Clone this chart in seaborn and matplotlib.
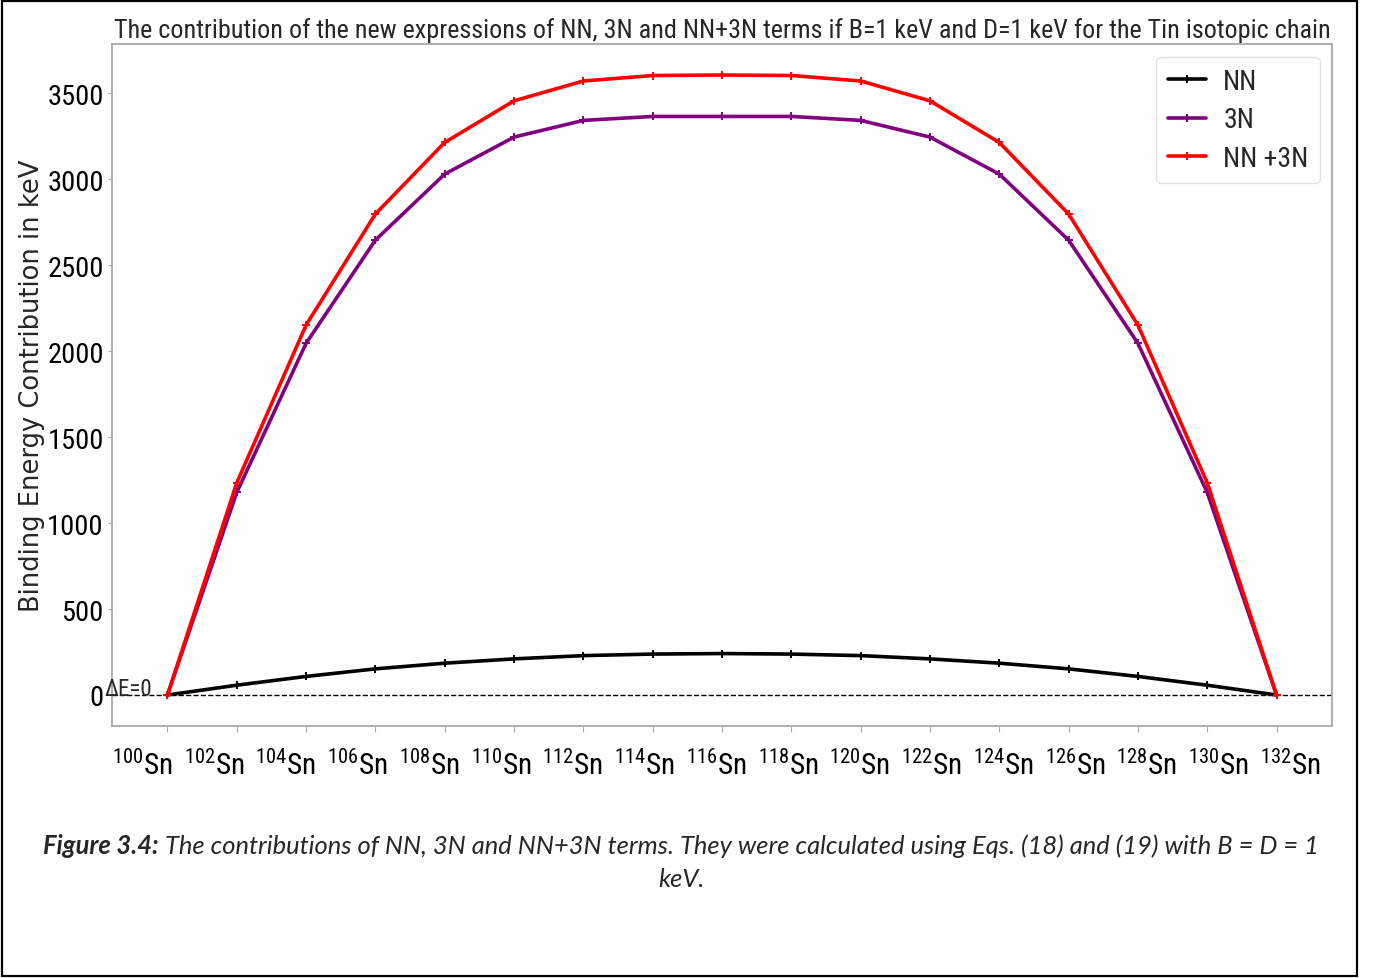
import numpy as np
import pandas as pd
import matplotlib
matplotlib.use("Agg")
import matplotlib.pyplot as plt
import matplotlib.transforms as mtransforms
from matplotlib import font_manager as fm
from matplotlib.patches import Rectangle
import seaborn as sns

# ---------------- data ----------------
mass_numbers = [100, 102, 104, 106, 108, 110, 112, 114, 116, 118, 120, 122, 124, 126, 128, 130, 132]
nn_values = [0, 57, 108, 152, 185, 210, 229, 238, 241, 238, 229, 210, 185, 152, 108, 57, 0]
three_n_values = [0, 1178, 2045, 2645, 3029, 3244, 3341, 3364, 3364, 3364, 3341, 3244, 3029, 2645, 2045, 1178, 0]
nn_3n_values = [0, 1234, 2151, 2797, 3213, 3455, 3570, 3602, 3605, 3602, 3570, 3455, 3213, 2797, 2151, 1234, 0]
series_labels = ["NN", "3N", "NN +3N"]
series_colors = ["black", "purple", "red"]
tick_labels = [r"$^{%d}$Sn" % m for m in mass_numbers]
title_text = ("The contribution of the new expressions of NN, 3N and NN+3N terms "
              "if B=1 keV and D=1 keV for the Tin isotopic chain")
ylabel_text = "Binding Energy Contribution in keV"
caption_bold = "Figure 3.4:"
caption_rest = (" The contributions of NN, 3N and NN+3N terms. They were calculated "
                "using Eqs. (18) and (19) with B = D = 1")
caption_line2 = "keV."

# ---------------- fonts ----------------
ttf = fm.fontManager.ttflist
names = {f.name for f in ttf}


def pick_narrow():
    prefs = ["Liberation Sans Narrow", "Arial Narrow", "Roboto Condensed",
             "Noto Sans Condensed", "Open Sans Condensed", "DejaVu Sans Condensed",
             "Noto Sans SemiCondensed", "Open Sans SemiCondensed"]
    for p in prefs:
        if p in names:
            return p, "normal"
    cond = ("condensed", "semi-condensed", "extra-condensed", "ultra-condensed")
    for fam in ["DejaVu Sans", "Noto Sans", "Roboto", "Open Sans", "Liberation Sans"]:
        for f in ttf:
            st = f.stretch
            is_cond = (st in cond) or (isinstance(st, (int, float)) and st < 500)
            if f.name == fam and is_cond and f.style == "normal":
                return fam, st
    return "DejaVu Sans", "normal"


narrow, narrow_stretch = pick_narrow()
cap_font = "Lato" if "Lato" in names else narrow

sns.set_theme(style="white")
plt.rcParams["font.family"] = [narrow, "DejaVu Sans"]
plt.rcParams["font.stretch"] = narrow_stretch
plt.rcParams["mathtext.fontset"] = "custom"
pat = narrow if narrow_stretch == "normal" else "%s:stretch=%s" % (narrow, narrow_stretch)
plt.rcParams["mathtext.rm"] = pat
plt.rcParams["mathtext.it"] = pat + ":italic"
plt.rcParams["mathtext.bf"] = pat + ":bold"
plt.rcParams["mathtext.default"] = "rm"

W, H = 1374, 979
fig = plt.figure(figsize=(W / 100, H / 100), dpi=100)
fig.patch.set_facecolor("white")
ax = fig.add_axes([112 / W, 1 - 727 / H, (1332 - 112) / W, (727 - 45) / H])

frames = []
for lab, vals in zip(series_labels, [nn_values, three_n_values, nn_3n_values]):
    frames.append(pd.DataFrame({"mass": mass_numbers, "value": vals, "series": lab}))
df = pd.concat(frames, ignore_index=True)

for lab, col in zip(series_labels, series_colors):
    sub = df[df["series"] == lab]
    sns.lineplot(data=sub, x="mass", y="value", color=col, linewidth=2.6,
                 marker="+", markersize=6, markeredgewidth=1.4,
                 markeredgecolor=col, label=lab, ax=ax, zorder=3)

ax.axhline(0, color="black", linestyle="--", linewidth=1.0, zorder=2)
ax.margins(x=0.05, y=0.05)

gray = "#a8a8a8"
for s in ax.spines.values():
    s.set_color(gray)
    s.set_linewidth(1.3)

# y axis
ax.set_yticks([0, 500, 1000, 1500, 2000, 2500, 3000, 3500])
ax.tick_params(axis="y", which="major", left=True, length=3, width=0.8,
               color=gray, labelsize=20.5, pad=3, labelcolor="black")

# x axis: ticks at the isotopes, labels spread slightly wider
ax.set_xticks(mass_numbers, minor=True)
ax.tick_params(axis="x", which="minor", bottom=True, length=4, width=0.8, color=gray)
label_pos = [115.83 + 1.035 * (m - 116) for m in mass_numbers]
ax.set_xticks(label_pos, tick_labels)
ax.tick_params(axis="x", which="major", bottom=True, length=0, labelsize=21, pad=17,
               labelcolor="black")
ax.set_xlabel("")

ax.set_ylabel(ylabel_text, fontsize=18.5, family="DejaVu Sans", stretch="normal")
ax.yaxis.set_label_coords(-(112 - 45) / 1220, 0.5)

# Delta E label
trans = mtransforms.blended_transform_factory(ax.transAxes, ax.transData)
ax.text(-0.0057, 0, "ΔE=0", transform=trans, fontsize=16.5, ha="left", va="baseline",
        clip_on=False)

leg = ax.legend(loc="upper right", fontsize=20, handlelength=1.4, handletextpad=0.6,
                labelspacing=0.42, borderaxespad=0.45, frameon=True, fancybox=True,
                framealpha=0.8, edgecolor="0.85")

# title
title = ax.set_title(title_text, fontsize=18, pad=5)
fig.canvas.draw()
r = fig.canvas.get_renderer()
w = title.get_window_extent(r).width
title.set_fontsize(18 * 1218 / w)

# caption
fs = 18
tb = fig.text(43 / W, 1 - 846 / H, caption_bold, family=cap_font, fontweight="bold",
              style="italic", stretch="normal", fontsize=fs, ha="left", va="center")
tr = fig.text(0, 1 - 846 / H, caption_rest, family=cap_font, style="italic",
              stretch="normal", fontsize=fs, ha="left", va="center")
fig.canvas.draw()
wb = tb.get_window_extent(r).width
wr = tr.get_window_extent(r).width
scale = 1277 / (wb + wr)
fs2 = fs * scale
tb.set_fontsize(fs2)
tr.set_fontsize(fs2)
fig.canvas.draw()
wb = tb.get_window_extent(r).width
tr.set_x((43 + wb) / W)
fig.text(681 / W, 1 - 880 / H, caption_line2, family=cap_font, style="italic",
         stretch="normal", fontsize=fs2, ha="center", va="center")

# figure border
fig.patches.append(Rectangle((2 / W, 2 / H), (1357 - 2) / W, (977 - 2) / H,
                             transform=fig.transFigure, fill=False,
                             linewidth=1.6, edgecolor="black"))

fig.savefig("out.png", dpi=100)
